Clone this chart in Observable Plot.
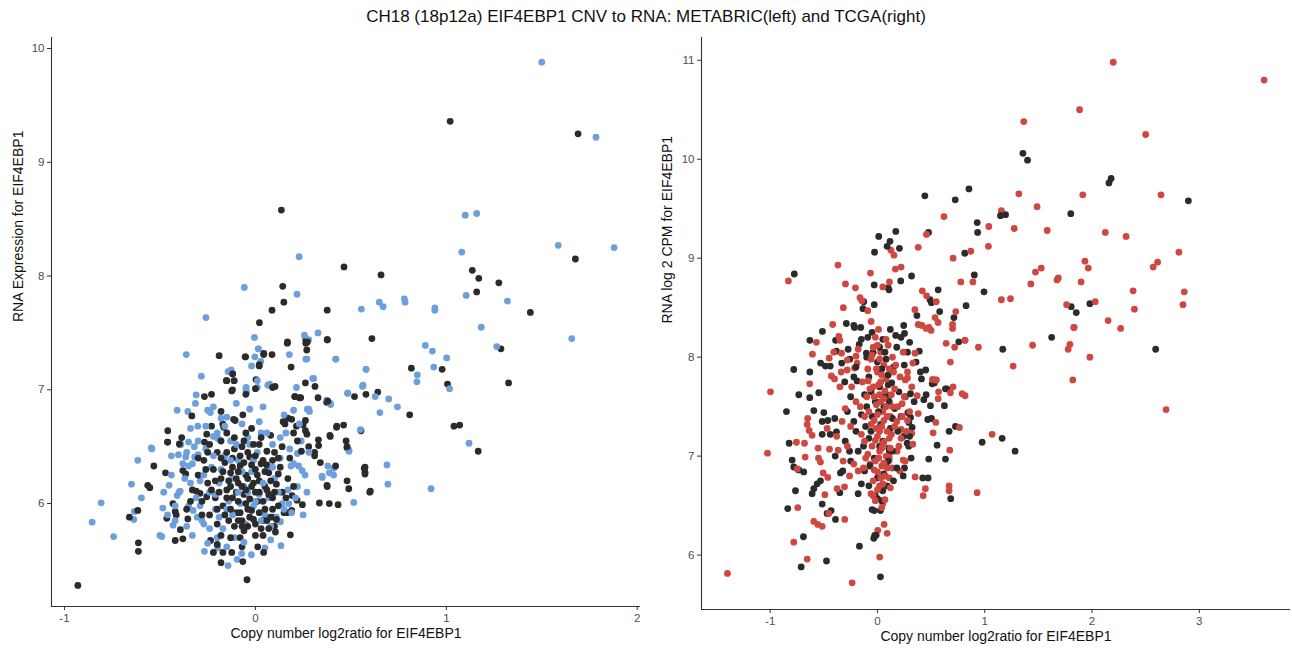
<!DOCTYPE html>
<html>
<head>
<meta charset="utf-8">
<script src="https://cdn.jsdelivr.net/npm/d3@7"></script>
<script src="https://cdn.jsdelivr.net/npm/@observablehq/plot@0.6"></script>
<style>
  html, body { margin: 0; padding: 0; background: #fff; }
  body { width: 1292px; height: 652px; position: relative; overflow: hidden; font-family: "Liberation Sans", Arial, sans-serif; }
  #title { position: absolute; top: 0; left: 0; width: 1292px; height: 30px; line-height: 34px; text-align: center; font-size: 17px; color: #111; }
  #left { position: absolute; top: 30px; left: 0; }
  #right { position: absolute; top: 30px; left: 646px; }
</style>
</head>
<body>
<div id="title"></div>
<div id="left"></div>
<div id="right"></div>
<script>
// ---------- data (copy-number log2 ratio, RNA) ----------
const titleText = "CH18 (18p12a) EIF4EBP1 CNV to RNA: METABRIC(left) and TCGA(right)";
const xLabel = "Copy number log2ratio for EIF4EBP1";
const yLabelLeft = "RNA Expression for EIF4EBP1";
const yLabelRight = "RNA log 2 CPM for EIF4EBP1";
const leftXTicks = [-1, 0, 1, 2];
const leftYTicks = [6, 7, 8, 9, 10];
const rightXTicks = [-1, 0, 1, 2, 3];
const rightYTicks = [6, 7, 8, 9, 10, 11];

const metabricBlack = [
[-0.93,5.28],[1.02,9.36],[1.69,9.25],[0.136,8.58],[1.676,8.15],[0.464,8.08],[1.136,8.05],[0.658,8.01],[1.17,7.98],[1.275,7.94],
[0.143,7.91],[1.159,7.86],[0.149,7.77],[0.087,7.70],[0.376,7.70],[1.44,7.68],[0.021,7.59],[1.286,7.36],[1.326,7.06],[0.817,7.19],
[0.978,7.18],[1.006,7.05],[0.808,6.78],[1.04,6.68],[1.07,6.69],[1.167,6.46],[0.599,6.10],[0.57,6.31],[0.574,6.26],[0.489,6.13],
[0.48,6.20],[0.433,5.99],[0.387,6.0],[0.335,6.005],[0.553,6.64],[0.462,6.69],[0.425,6.67],[0.392,6.59],[0.48,6.49],[0.42,6.33],
[0.376,6.15],[0.641,6.98],[0.579,6.96],[0.519,6.94],[0.61,7.45],[0.376,7.44],[0.264,7.44],[0.264,7.41],[0.167,7.41],[0.187,7.20],
[0.087,7.31],[0.043,7.31],[-0.051,7.29],[0.02,7.21],[-0.19,7.30],[-0.12,7.14],[0.003,7.09],[-0.15,7.08],[-0.124,6.99],[0.103,7.03],
[0.262,7.06],[0.23,6.93],[0.207,6.94],[0.328,6.93],[0.373,6.89],[0.262,6.73],[0.262,6.64],[0.27,6.61],[0.215,6.68],[0.17,6.75],
[0.155,6.70],[0.272,7.42],[0.269,7.35],[0.377,7.44],[0.168,7.42],[0.09,7.02],[0.312,7.03],[0.237,6.93],[0.206,6.94],[0.379,6.90],
[0.25,6.69],[0.19,6.74],[0.145,6.72],[0.426,6.68],[0.39,6.60],[0.33,6.56],[0.475,6.55],[0.48,6.50],[0.31,6.45],[0.31,6.42],
[0.279,6.50],[0.331,6.51],[0.241,6.46],[0.34,6.36],[0.375,6.16],[0.246,5.99],[0.218,6.03],[0.192,6.07],[0.19,5.94],[0.166,5.92],
[0.105,5.75],[0.183,5.725],[0.10,5.88],[0.602,6.11],[0.574,6.32],[0.574,6.275],
[-0.613,5.655],[-0.613,5.58],[-0.66,5.88],[-0.616,5.94],[-0.564,6.16],[-0.553,6.14],[-0.532,6.33],[-0.46,6.54],[-0.471,6.27],[-0.464,5.87],
[-0.432,6.0],[-0.42,5.93],[-0.415,5.90],[-0.42,5.675],[-0.38,5.69],[-0.393,5.77],[-0.38,6.29],[-0.365,6.26],[-0.396,6.52],[-0.354,5.865],
[-0.31,6.11],[-0.29,6.09],[-0.255,6.06],[-0.235,5.675],[-0.22,5.57],[-0.18,5.48],[-0.066,5.49],[-0.044,5.33],[-0.07,5.62],[0.012,5.62],
[0.043,5.57],[-0.124,5.57],[-0.17,5.57],[-0.2,5.64],[-0.333,6.77],[-0.267,6.94],[-0.23,6.96],[-0.18,6.81],[-0.171,6.70],[-0.166,6.67],
[-0.114,6.74],[-0.106,6.73],[-0.066,6.78],[-0.459,6.64],[-0.46,6.54],[-0.398,6.525],[-0.386,6.58],[-0.267,6.54],[-0.255,6.61],[-0.23,6.68],
[-0.054,7.29],[0.044,7.32],[0.02,7.22],[-0.119,7.14],[-0.152,7.08],[-0.112,7.08],[-0.12,7.0],[0,7.01],[-0.05,6.96],
[-0.30,6.25],[-0.27,6.38],[-0.25,6.18],[-0.22,6.30],[-0.21,6.05],[-0.20,6.45],[-0.18,6.22],[-0.17,5.98],[-0.16,6.36],[-0.15,6.12],
[-0.14,5.85],[-0.13,6.27],[-0.12,6.05],[-0.11,6.48],[-0.10,5.92],[-0.09,6.18],[-0.08,6.33],[-0.07,5.80],[-0.06,6.08],[-0.05,6.25],
[-0.04,5.95],[-0.03,6.41],[-0.02,6.15],[-0.01,5.86],[0.00,6.30],[0.01,6.02],[0.02,6.20],[0.03,5.78],[0.04,6.38],[0.05,5.95],
[0.06,6.12],[0.07,6.27],[0.08,5.88],[0.09,6.05],[0.10,6.45],[0.11,6.17],[0.12,5.98],[0.13,6.32],[0.14,6.10],[0.15,5.92],
[0.17,6.22],[-0.12,6.40],[-0.06,6.55],[0.02,6.52],[-0.18,6.55],[-0.28,6.02],[-0.24,5.90],[-0.33,6.12],[-0.08,5.70],[0.00,5.72],
[-0.03,5.88],[-0.10,6.10],[0.05,6.15],[-0.15,6.62],[0.08,6.60],[-0.02,6.66],[-0.05,6.00],[0.04,5.85],[-0.2,5.82],[0.12,6.40],
[-0.09,6.28],[0.06,6.34],[-0.13,6.15],[0.00,6.10],[-0.07,5.85],[0.10,5.80],[-0.25,6.45],[-0.04,6.45],
[-0.19,6.10],[-0.17,6.28],[-0.16,5.90],[-0.15,6.45],[-0.14,6.20],[-0.13,5.95],[-0.12,6.32],[-0.11,5.80],[-0.10,6.22],[-0.09,6.02],
[-0.08,6.42],[-0.08,5.92],[-0.07,6.15],[-0.06,5.76],[-0.06,6.36],[-0.05,6.12],[-0.04,5.80],[-0.04,6.22],[-0.03,6.04],[-0.02,6.34],
[-0.02,5.94],[-0.01,6.18],[0.00,5.82],[0.00,6.42],[0.01,6.25],[0.02,5.92],[0.02,6.10],[0.03,6.35],[0.04,6.02],[0.04,5.72],
[0.05,6.28],[0.06,5.85],[0.06,6.46],[0.07,6.08],[0.08,6.20],[0.09,5.95],[0.09,6.38],[0.10,6.10],[0.11,5.86],[0.12,6.26],
[-0.18,6.40],[-0.21,6.20],[-0.23,6.12],[-0.26,6.30],[-0.24,6.52],[-0.20,5.95],[-0.18,5.72],[-0.13,5.70],[-0.11,6.58],[-0.05,6.62],
[0.03,6.58],[0.14,6.50],[0.16,6.05],[0.18,6.40],[-0.07,6.50],[-0.15,6.05],[-0.09,5.85],[0.07,5.78],[-0.01,6.52],[-0.28,5.90],
[-0.3,6.40],[-0.34,6.02],[-0.36,5.95],[0.20,6.15],[0.22,6.55],[0.2,6.62]
];

const metabricBlue = [
[1.50,9.88],[1.784,9.22],[1.099,8.535],[1.159,8.55],[1.586,8.27],[1.879,8.25],[0.229,8.17],[1.081,8.21],[-0.058,7.90],[0.218,7.84],
[1.104,7.83],[0.78,7.80],[0.784,7.77],[0.649,7.77],[0.669,7.73],[1.32,7.78],[0.94,7.72],[0.94,7.70],[0.555,7.71],[-0.259,7.635],
[1.183,7.55],[1.657,7.45],[1.264,7.38],[0.89,7.39],[0.927,7.34],[1.002,7.28],[0.934,7.20],[0.848,7.13],[0.846,7.07],[1.017,7.01],
[1.119,6.53],[0.92,6.13],[0.689,6.34],[0.694,6.17],[0.515,6.01],[0.49,6.46],[0.41,6.31],[0.41,6.25],[0.35,6.23],[0.652,6.80],
[0.744,6.85],[0.698,6.92],[0.627,6.94],[0.561,7.03],[0.484,6.97],[0.579,7.18],[0.328,7.50],[0.42,7.27],[0.257,7.48],[0.178,7.31],
[0.264,7.27],[-0.005,7.46],[0.015,7.36],[-0.003,7.29],[-0.02,7.21],[-0.362,7.31],[-0.283,7.12],[-0.14,7.16],[0.01,7.08],[0.01,7.02],
[-0.11,7.08],[-0.05,7.0],[0.075,7.05],[0.30,7.10],[0.215,7.02],[0.373,6.91],[0.394,6.87],[0.279,6.83],[0.2,6.82],[0.279,7.44],
[0.27,7.27],[0.422,7.27],[0.58,7.18],[0.305,7.10],[0.065,7.04],[0.483,6.97],[0.564,7.04],[0.393,6.88],[0.272,6.83],[0.283,6.81],
[0.55,6.65],[0.49,6.47],[0.379,6.33],[0.387,6.27],[0.349,6.24],[0.22,6.44],[0.245,6.29],[0.226,6.33],[0.186,6.33],[0.131,5.84],
[0.134,5.63],[0.175,6.0],
[-0.855,5.836],[-0.808,6.006],[-0.743,5.71],[-0.649,6.17],[-0.616,6.38],[-0.637,5.86],[-0.634,5.93],[-0.597,6.05],[-0.543,6.48],[-0.5,5.72],
[-0.49,5.71],[-0.485,5.96],[-0.452,6.16],[-0.44,6.42],[-0.403,6.43],[-0.365,6.41],[-0.431,5.81],[-0.41,6.07],[-0.394,6.11],[-0.35,6.33],
[-0.318,6.41],[-0.3,6.43],[-0.326,5.94],[-0.305,5.88],[-0.28,5.85],[-0.267,5.58],[-0.198,5.61],[-0.143,5.455],[-0.096,5.51],[-0.072,5.56],
[-0.021,5.55],[0.05,5.61],[-0.41,6.82],[-0.354,6.81],[-0.34,6.66],[-0.302,6.68],[-0.25,6.82],[-0.236,6.80],[-0.15,6.76],[-0.03,6.83],
[-0.545,6.49],[-0.35,6.54],[-0.39,6.52],[-0.22,6.59],[-0.195,6.57],[-0.31,6.955],[-0.314,6.88],[-0.049,7.02],[-0.046,6.98],[0.016,7.36],
[0.028,7.25],[-0.143,7.16],[-0.127,7.175],
[-0.40,6.10],[-0.37,6.22],[-0.35,5.98],[-0.33,6.35],[-0.31,6.05],[-0.29,6.20],[-0.27,5.82],[-0.26,6.48],[-0.24,6.10],[-0.23,6.32],
[-0.21,5.95],[-0.20,6.62],[-0.19,6.18],[-0.17,5.78],[-0.16,6.42],[-0.14,6.02],[-0.13,6.55],[-0.12,6.22],[-0.11,5.70],[-0.09,6.38],
[-0.08,6.00],[-0.07,6.70],[-0.06,6.15],[-0.05,5.82],[-0.04,6.58],[-0.02,6.28],[-0.01,5.98],[0.01,6.45],[0.02,6.08],[0.03,6.62],
[0.05,5.90],[0.06,6.30],[0.07,6.05],[0.09,6.52],[0.10,6.22],[0.11,5.88],[0.13,6.40],[0.14,6.00],[0.16,6.62],[0.17,6.12],
[0.19,5.92],[0.20,6.35],[0.22,6.15],[0.24,6.55],[0.26,6.25],[0.28,6.45],[-0.30,6.55],[-0.18,6.75],[-0.25,5.65],[-0.15,5.62],
[0.08,5.68],[-0.42,5.85],[-0.36,6.45],[0.04,6.85],[-0.10,6.88],[0.15,6.78],[-0.22,6.85],
[-0.44,6.25],[-0.42,5.98],[-0.38,6.35],[-0.36,5.80],[-0.34,6.18],[-0.32,6.50],[-0.29,5.98],[-0.27,6.25],[-0.26,6.68],[-0.24,5.78],
[-0.22,6.42],[-0.21,6.08],[-0.19,5.88],[-0.18,6.30],[-0.16,6.68],[-0.15,5.95],[-0.13,6.38],[-0.12,5.90],[-0.10,6.52],[-0.09,6.10],
[-0.07,6.28],[-0.06,5.66],[-0.04,6.10],[-0.03,6.52],[-0.01,6.38],[0.00,6.02],[0.02,6.72],[0.03,5.85],[0.04,6.18],[0.06,6.62],
[0.08,5.80],[0.09,6.32],[0.12,6.10],[0.13,6.58],[0.15,5.95],[0.18,6.48],[0.21,6.05],[0.23,6.70],[0.27,6.10],[0.25,5.90],
[-0.48,6.10],[-0.46,5.90],[-0.33,5.72],[-0.2,5.70]
];

const tcgaBlack = [
[1.356,10.06],[1.399,9.99],[2.158,9.76],[2.178,9.805],[2.898,9.58],[0.442,9.63],[0.853,9.70],[0.725,9.59],[1.147,9.43],[1.194,9.44],
[1.802,9.45],[0.93,9.36],[0.934,9.26],[0.476,9.26],[0.171,9.27],[0.012,9.22],[0.117,9.17],[0.09,9.12],[0.205,9.10],[-0.027,9.06],
[0.814,9.05],[0.993,8.66],[0.903,8.83],[0.826,8.52],[1.806,8.51],[1.853,8.45],[1.98,8.54],[0.318,8.82],[0.217,8.77],[-0.03,8.73],
[0.1,8.70],[0.108,8.68],[-0.775,8.84],[0.566,8.68],[0.49,8.58],[0.503,8.55],[-0.128,8.56],[-0.135,8.49],[-0.03,8.53],[0.58,8.46],
[0.713,8.40],[0.368,8.42],[0.245,8.32],[0.252,8.24],[0.758,8.155],[1.168,8.08],[0.45,7.87],[0.3,8.15],[0.39,8.06],[0.36,7.95],
[0.40,7.85],[0.41,7.78],[0.133,7.74],[0.53,7.74],[0.634,7.68],[2.593,8.08],[1.624,8.20],
[0.976,7.14],[1.162,7.18],[1.283,7.05],[0.683,6.57],[0.422,6.78],[0.472,6.78],[0.634,6.97],[0.478,6.97],[0.556,7.11],[0.668,7.25],
[0.727,7.30],[0.503,7.38],[0.469,7.37],[0.624,7.51],[0.494,7.51],[0.646,7.68],[0.51,7.73],[0.432,7.57],[0.454,7.62],[0.342,7.55],
[0.308,7.63],[0.283,7.44],[0.308,7.39],[0.323,7.29],[0.292,7.34],[0.245,7.20],[0.277,7.13],[0.292,7.10],[0.314,6.98],[0.252,6.88],
[0.106,7.08],[0.112,7.05],[0.059,6.82],[0.07,6.80],[0.0,6.57],[0.028,6.45],[-0.05,6.46],[-0.025,6.20],[-0.034,6.17],[0.028,5.78],
[-0.733,7.62],[-0.631,7.59],[-0.547,7.64],[-0.848,7.45],[-0.593,7.46],[-0.5,7.44],[-0.515,7.35],[-0.463,7.36],[-0.398,7.38],[-0.382,7.245],
[-0.515,7.22],[-0.44,7.22],[-0.823,7.13],[-0.394,7.0],[-0.795,6.96],[-0.78,6.89],[-0.733,6.86],[-0.687,6.84],[-0.323,6.85],[-0.345,6.83],
[-0.531,6.75],[-0.562,6.72],[-0.593,6.67],[-0.609,6.62],[-0.764,6.65],[-0.351,6.63],[-0.836,6.47],[-0.515,6.515],[-0.432,6.45],[-0.469,6.42],
[-0.391,6.36],[-0.69,6.185],[-0.475,5.94],[-0.711,5.88],[-0.168,6.09],[-0.012,6.20],
[-0.29,8.34],[-0.22,8.32],[-0.214,8.30],[-0.156,8.30],[-0.513,8.26],[-0.39,8.17],[-0.63,8.17],[-0.17,8.13],[-0.382,8.06],[-0.273,8.08],
[-0.103,8.04],[-0.53,7.94],[-0.485,7.91],[-0.44,7.91],[-0.333,7.94],[-0.258,7.98],[-0.78,7.875],[-0.63,7.85],[-0.305,7.75],[-0.19,7.76],
[-0.05,8.25],[0.05,8.18],[0.12,8.28],[0.18,8.10],[-0.10,8.00],[0.00,7.95],[0.08,7.98],[0.15,7.90],[-0.08,7.80],[0.02,7.70],
[0.10,7.72],[0.20,7.65],[-0.12,7.62],[-0.02,7.55],[0.06,7.50],[0.16,7.48],[-0.15,7.42],[-0.05,7.40],[0.03,7.32],[0.12,7.28],
[0.22,7.40],[-0.20,7.25],[-0.08,7.18],[0.05,7.15],[0.14,7.05],[-0.18,7.05],[-0.03,6.98],[0.08,6.92],[0.18,6.88],[-0.12,6.85],
[0.00,6.78],[-0.08,6.70],[0.05,6.65],[-0.25,7.60],[-0.22,7.80],[-0.28,7.45],[-0.30,7.15],[-0.25,6.95],[0.25,7.92],[0.28,8.05],
[-0.15,8.18],[0.30,7.20],[0.24,6.80],[-0.18,6.62],[-0.06,7.25],[0.11,7.55],[0.07,8.05],[0.02,8.10],[-0.11,7.30],[0.09,6.70],[-0.03,6.45],
[-0.04,8.05],[0.04,7.88],[0.10,7.82],[-0.06,7.65],[0.08,7.62],[0.14,7.38],[-0.10,7.50],[0.01,7.45],[0.19,7.25],[-0.13,7.10],
[0.02,7.10],[0.10,6.95],[-0.07,6.90],[0.15,6.75],[-0.15,6.72],[-0.22,7.35],[-0.26,7.05],[-0.20,7.90],[0.26,7.60],[0.22,8.20],
[-0.09,8.20],[0.17,8.22],[-0.02,6.60],[0.04,6.55]
];

const tcgaRed = [
[2.198,10.98],[3.604,10.80],[1.884,10.50],[1.364,10.38],[2.5,10.25],[1.318,9.65],[1.914,9.64],[2.643,9.64],[1.155,9.48],[1.488,9.52],
[0.62,9.42],[1.038,9.32],[1.275,9.30],[1.582,9.28],[2.124,9.26],[2.318,9.22],[0.457,9.24],[0.126,9.08],[0.154,9.03],[0.38,9.11],
[1.034,9.12],[0.705,9.0],[0.87,9.07],[2.81,9.06],[1.934,8.97],[1.965,8.90],[2.611,8.96],[2.57,8.91],[1.527,8.90],[1.473,8.86],
[1.686,8.80],[1.674,8.78],[1.898,8.76],[1.43,8.74],[2.383,8.67],[2.86,8.66],[2.848,8.53],[2.395,8.485],[0.777,8.76],[0.89,8.76],
[1.155,8.58],[1.24,8.59],[1.763,8.53],[2.03,8.56],[2.15,8.37],[2.267,8.29],[1.833,8.30],[0.22,8.91],[0.167,8.89],[0.05,8.71],
[-0.065,8.85],[-0.368,8.93],[-0.83,8.77],[-0.298,8.74],[-0.205,8.70],[0.418,8.67],[0.458,8.62],[0.548,8.56],[-0.163,8.60],[-0.144,8.57],
[-0.318,8.50],[-0.09,8.47],[0.73,8.46],[0.349,8.48],[0.112,8.76],
[0.537,8.40],[0.565,8.35],[0.70,8.33],[0.70,8.29],[0.416,8.32],[0.454,8.29],[0.48,8.30],[0.5,8.27],[0.38,8.33],[0.64,8.14],
[0.817,8.17],[0.941,8.10],[0.72,8.10],[1.265,7.91],[0.68,7.95],[0.513,7.775],[0.35,8.04],[0.33,7.94],[0.26,7.77],[0.28,7.79],
[0.55,7.77],[2.69,7.47],[1.83,8.30],[1.794,8.13],[1.778,8.08],[1.98,8.0],[1.821,7.77],[1.446,8.12],[0.814,8.17],
[1.069,7.22],[0.929,6.63],[0.668,6.70],[0.668,6.65],[0.447,6.67],[0.426,6.60],[0.351,6.79],[0.674,7.06],[0.764,7.29],[0.519,7.235],
[0.544,7.34],[0.38,7.43],[0.705,7.70],[0.68,7.64],[0.789,7.63],[0.817,7.61],[0.54,7.77],[0.57,7.65],[0.566,7.58],[0.37,7.61],
[0.23,7.53],[0.28,7.36],[0.32,7.23],[0.22,7.27],[0.33,7.12],[0.183,7.05],[0.24,6.96],[0.208,6.85],[0.137,6.88],[0.11,6.99],
[0.11,6.96],[0.11,6.78],[0.037,6.66],[0.05,6.52],[0.062,6.31],[0.09,6.22],[0.003,6.25],[0.021,5.98],
[-0.997,7.65],[-0.631,7.73],[-0.65,7.38],[-0.655,7.32],[-0.637,7.26],[-0.609,7.21],[-0.469,7.28],[-0.755,7.14],[-0.68,7.13],[-1.025,7.03],
[-0.553,7.08],[-0.447,7.07],[-0.366,7.06],[-0.674,6.99],[-0.55,6.98],[-0.531,6.94],[-0.748,6.87],[-0.506,6.83],[-0.463,6.785],[-0.49,6.61],
[-0.376,6.67],[-0.307,6.69],[-0.743,6.48],[-0.454,6.42],[-0.305,6.36],[-0.593,6.34],[-0.556,6.31],[-0.515,6.29],[-0.78,6.13],[-0.655,5.96],
[-1.398,5.815],[-0.236,5.72],
[-0.417,8.33],[-0.059,8.36],[-0.36,8.21],[-0.35,8.17],[-0.569,8.15],[-0.606,8.03],[-0.45,7.99],[-0.407,8.05],[-0.335,8.04],[-0.282,7.97],
[-0.2,8.01],[-0.19,7.94],[-0.282,7.87],[-0.338,7.85],[-0.214,7.89],[-0.43,7.81],[-0.40,7.78],[-0.087,7.76],
[-0.02,8.20],[0.03,8.05],[0.06,7.92],[0.00,7.85],[0.08,7.78],[-0.04,7.70],[0.02,7.62],[0.10,7.58],[-0.01,7.52],[0.05,7.45],
[0.12,7.40],[-0.03,7.36],[0.04,7.30],[0.09,7.25],[0.00,7.20],[0.06,7.14],[-0.05,7.10],[0.02,7.05],[0.08,7.00],[-0.02,6.95],
[0.04,6.90],[0.00,6.84],[0.07,6.80],[-0.04,6.75],[0.02,6.70],[-0.07,6.92],[-0.09,7.02],[0.14,7.50],[0.16,7.68],[0.18,7.35],
[0.20,7.10],[0.15,7.85],[-0.06,7.98],[0.10,8.12],[0.01,8.28],[-0.10,7.60],[-0.12,7.40],[-0.15,7.22],[-0.11,6.98],[-0.18,6.85],
[-0.14,7.75],[-0.20,7.55],[-0.25,7.30],[-0.28,7.10],[-0.22,6.92],[-0.30,7.48],[-0.35,7.70],[-0.38,7.20],[-0.32,6.95],[0.25,7.60],
[0.28,7.85],[0.24,8.05],[0.30,7.45],[0.22,7.18],[0.26,6.95],[0.12,6.68],[-0.06,6.62],[-0.02,6.55],[0.07,6.56],[0.03,7.75],
[0.06,7.58],[-0.01,7.28],[0.05,7.12],[0.11,7.88],[-0.08,7.45],[0.01,6.98],[0.13,7.22],[-0.04,8.10],
[0.00,8.12],[0.02,7.98],[-0.01,7.88],[0.04,7.82],[0.01,7.72],[0.07,7.66],[-0.03,7.60],[0.03,7.55],[0.08,7.50],[0.00,7.42],
[0.06,7.36],[0.02,7.25],[-0.02,7.16],[0.04,7.08],[0.01,6.98],[0.06,6.93],[-0.03,6.86],[0.03,6.78],[0.00,6.66],[0.05,6.72],
[0.09,7.40],[0.11,7.18],[0.13,7.62],[0.16,7.30],[0.17,7.92],[0.19,7.50],[-0.06,7.32],[-0.07,7.68],[-0.09,7.88],[-0.12,7.15],
[-0.13,6.88],[-0.16,7.50],[-0.18,8.08],[0.21,7.80],[0.23,7.40],[0.27,7.25],[0.32,7.70],[-0.24,7.70],[-0.26,6.80],[-0.33,7.35],
[0.14,8.00],[0.08,8.18],[-0.05,8.02],[0.09,6.88],[0.12,7.08],[-0.04,6.60],[0.04,6.48]
];

// ---------- build tables (interleaved draw order, like a single ggplot layer) ----------
function interleave(a, ga, b, gb) {
  const rows = [];
  const n = Math.max(a.length, b.length);
  for (let i = 0; i < n; i++) {
    if (i < a.length) rows.push({cnv: a[i][0], rna: a[i][1], group: ga});
    if (i < b.length) rows.push({cnv: b[i][0], rna: b[i][1], group: gb});
  }
  return rows;
}
const leftRows = interleave(metabricBlue, "METABRIC-a", metabricBlack, "other");
const rightRows = interleave(tcgaRed, "TCGA-a", tcgaBlack, "other");

document.getElementById("title").textContent = titleText;

const FONT = "'Liberation Sans', Arial, Helvetica, sans-serif";
const colorScale = {type: "ordinal", domain: ["other", "METABRIC-a", "TCGA-a"], range: ["#2b2b2b", "#6c9fdc", "#cf4840"]};
const fmt = d => String(d);

function panel(rows, opts) {
  const [x0, x1] = opts.xDomain, [y0, y1] = opts.yDomain;
  return Plot.plot({
    width: 646, height: 622,
    marginLeft: opts.ml, marginRight: opts.mr, marginTop: 7, marginBottom: opts.mb,
    style: {fontFamily: FONT, fontSize: "11.5px", background: "#fff", overflow: "visible"},
    x: {domain: [x0, x1]},
    y: {domain: [y0, y1]},
    color: colorScale,
    marks: [
      Plot.axisX({ticks: opts.xTicks, tickFormat: fmt, tickSize: 4, tickPadding: 3, label: null, fill: "#4d4d4d", stroke: "#333", fontSize: 11.5}),
      Plot.axisY({ticks: opts.yTicks, tickFormat: fmt, tickSize: 4, tickPadding: 3, label: null, fill: "#4d4d4d", stroke: "#333", fontSize: 11.5}),
      Plot.ruleX([x0], {stroke: "#333", strokeWidth: 1.1}),
      Plot.ruleY([y0], {stroke: "#333", strokeWidth: 1.1}),
      Plot.dot(rows, {x: "cnv", y: "rna", fill: "group", r: 3.4, stroke: null}),
      Plot.text([xLabel], {text: d => d, frameAnchor: "bottom", dy: 31, fontSize: 14, fill: "#111"}),
      Plot.text([opts.yLabel], {text: d => d, frameAnchor: "left", rotate: -90, dx: opts.ydx, fontSize: 14, fill: "#111"})
    ]
  });
}

document.getElementById("left").append(panel(leftRows, {
  xDomain: [-1.068, 2.017], yDomain: [5.095, 10.097],
  xTicks: leftXTicks, yTicks: leftYTicks, ml: 51, mr: 6, mb: 46, yLabel: yLabelLeft, ydx: -33
}));
document.getElementById("right").append(panel(rightRows, {
  xDomain: [-1.64, 3.85], yDomain: [5.45, 11.23],
  xTicks: rightXTicks, yTicks: rightYTicks, ml: 55, mr: 2, mb: 43, yLabel: yLabelRight, ydx: -34
}));
</script>
</body>
</html>
